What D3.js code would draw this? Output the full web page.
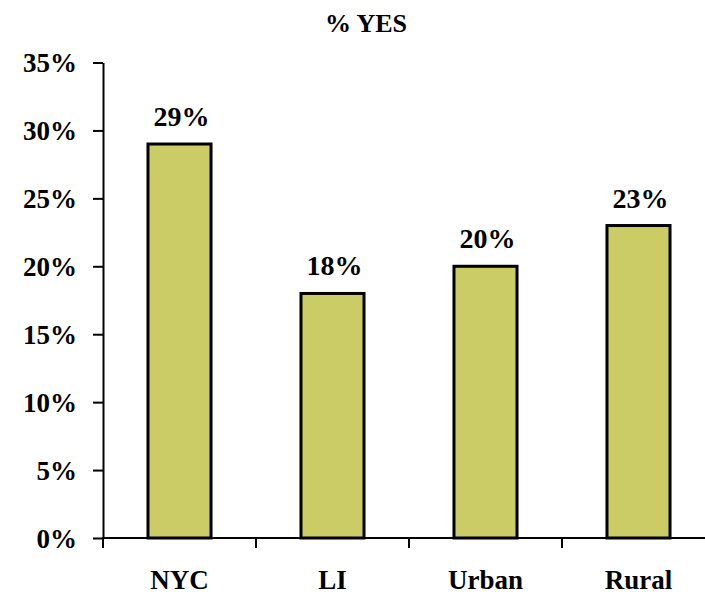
<!DOCTYPE html>
<html><head><meta charset="utf-8">
<script src="https://cdn.jsdelivr.net/npm/d3@7"></script>
<style>
body{margin:0;background:#fff;}
text{font-family:"Liberation Serif","Times New Roman",serif;font-weight:bold;fill:#000;}
</style></head>
<body><svg id="c" width="705" height="596"></svg>
<script>
const categories = ["NYC", "LI", "Urban", "Rural"];
const values = [29, 18, 20, 23];
const yTicks = [0, 5, 10, 15, 20, 25, 30, 35];
const title = "% YES";

const svg = d3.select("#c");
const x0 = 103, x1 = 715, yBottom = 538, yTop = 62.5;

const xBand = d3.scaleBand().domain(categories).range([x0, x1]).padding(0);
const xBar = d3.scaleBand().domain(categories).range([x0, x1]).paddingInner(0.588).paddingOuter(0.294);
const y = d3.scaleLinear().domain([0, 35]).range([yBottom, yTop]);

// bars
svg.append("g").selectAll("rect").data(values).join("rect")
  .attr("x", (d, i) => xBar(categories[i]))
  .attr("y", d => y(d))
  .attr("width", xBar.bandwidth())
  .attr("height", d => y(0) - y(d))
  .attr("fill", "#cccc66")
  .attr("stroke", "#000")
  .attr("stroke-width", 3);

// y axis
const yAxis = svg.append("g").attr("transform", `translate(${x0},0)`)
  .call(d3.axisLeft(y).tickValues(yTicks).tickFormat(d => d + "%").tickSize(10).tickSizeOuter(0).tickPadding(16));
yAxis.select(".domain").attr("stroke", "#000").attr("stroke-width", 2);
yAxis.selectAll(".tick line").attr("stroke", "#000").attr("stroke-width", 2);
yAxis.selectAll(".tick text").style("font-size", "27px").attr("dy", "0.35em");

// x axis line
svg.append("line").attr("x1", x0 - 1).attr("x2", 705).attr("y1", yBottom).attr("y2", yBottom)
  .attr("stroke", "#000").attr("stroke-width", 2);
// category boundary ticks
const bounds = categories.map(c => xBand(c));
svg.append("g").selectAll("line").data(bounds).join("line")
  .attr("x1", d => d).attr("x2", d => d)
  .attr("y1", yBottom).attr("y2", yBottom + 10)
  .attr("stroke", "#000").attr("stroke-width", 2);

// category labels
svg.append("g").selectAll("text").data(categories).join("text")
  .attr("x", d => xBand(d) + xBand.bandwidth() / 2)
  .attr("y", 589)
  .attr("text-anchor", "middle")
  .style("font-size", "27px")
  .text(d => d);

// value labels
svg.append("g").selectAll("text").data(values).join("text")
  .attr("x", (d, i) => xBar(categories[i]) + xBar.bandwidth() / 2 + 2)
  .attr("y", d => y(d) - 18)
  .attr("text-anchor", "middle")
  .style("font-size", "28px")
  .text(d => d + "%");

// title
svg.append("text").attr("x", 366).attr("y", 32).attr("text-anchor", "middle")
  .style("font-size", "26px").text(title);
</script></body></html>
